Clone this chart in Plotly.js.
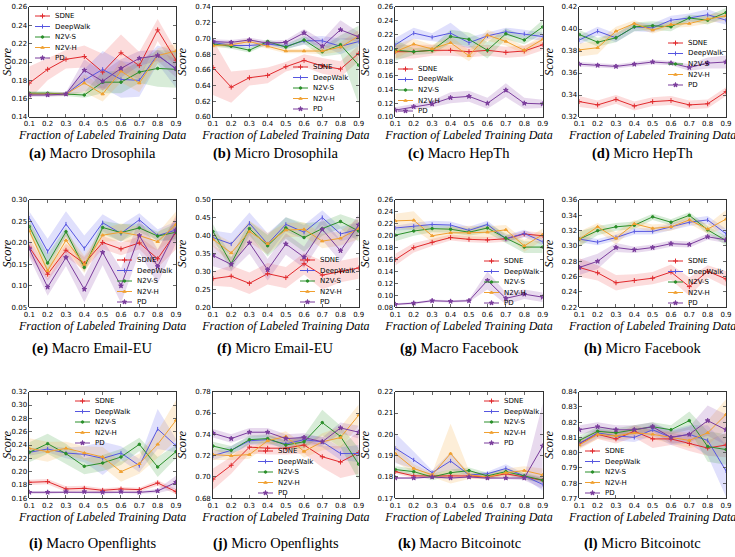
<!DOCTYPE html>
<html><head><meta charset="utf-8">
<script src="https://cdn.plot.ly/plotly-3.0.1.min.js"></script>
<style>body{margin:0;background:#fff}#chart{width:735px;height:557px}</style>
</head><body><div id="chart"></div>
<script>
const FRACTIONS = [0.1,0.2,0.3,0.4,0.5,0.6,0.7,0.8,0.9];
const METHODS = ['SDNE','DeepWalk','N2V-S','N2V-H','PD'];

// (a) Macro Drosophila
const macroDrosophilaMean = {
  'SDNE':     [0.177,0.192,0.203,0.206,0.189,0.210,0.196,0.235,0.202],
  'DeepWalk': [0.165,0.165,0.165,0.180,0.192,0.181,0.180,0.208,0.192],
  'N2V-S':    [0.166,0.166,0.165,0.164,0.178,0.178,0.189,0.193,0.192],
  'N2V-H':    [0.165,0.165,0.165,0.177,0.165,0.190,0.177,0.207,0.212],
  'PD':       [0.164,0.164,0.165,0.191,0.179,0.193,0.204,0.207,0.193]
};
const macroDrosophilaSpread = {
  'SDNE':     [0.018,0.012,0.010,0.012,0.020,0.020,0.015,0.012,0.010],
  'DeepWalk': [0.002,0.002,0.002,0.012,0.020,0.020,0.018,0.010,0.020],
  'N2V-S':    [0.002,0.002,0.002,0.003,0.012,0.012,0.012,0.020,0.020],
  'N2V-H':    [0.002,0.002,0.002,0.010,0.008,0.012,0.010,0.008,0.008],
  'PD':       [0.002,0.002,0.002,0.012,0.010,0.010,0.008,0.006,0.010]
};
// (b) Micro Drosophila
const microDrosophilaMean = {
  'SDNE':     [0.663,0.638,0.650,0.653,0.664,0.672,0.665,0.661,0.681],
  'DeepWalk': [0.695,0.691,0.691,0.693,0.690,0.697,0.697,0.690,0.696],
  'N2V-S':    [0.693,0.690,0.685,0.696,0.689,0.698,0.683,0.692,0.666],
  'N2V-H':    [0.691,0.692,0.696,0.690,0.684,0.684,0.684,0.689,0.703],
  'PD':       [0.696,0.695,0.698,0.694,0.695,0.707,0.690,0.711,0.702]
};
const microDrosophilaSpread = {
  'SDNE':     [0.035,0.020,0.010,0.010,0.006,0.008,0.010,0.010,0.010],
  'DeepWalk': [0.003,0.003,0.003,0.003,0.003,0.005,0.006,0.010,0.006],
  'N2V-S':    [0.003,0.003,0.003,0.003,0.003,0.005,0.006,0.012,0.050],
  'N2V-H':    [0.003,0.003,0.004,0.003,0.003,0.003,0.004,0.006,0.008],
  'PD':       [0.003,0.003,0.003,0.003,0.003,0.005,0.008,0.012,0.006]
};
// (c) Macro HepTh
const macroHepThMean = {
  'SDNE':     [0.195,0.195,0.197,0.197,0.195,0.197,0.194,0.196,0.205],
  'DeepWalk': [0.205,0.222,0.216,0.222,0.208,0.218,0.224,0.221,0.217],
  'N2V-S':    [0.197,0.195,0.197,0.217,0.213,0.197,0.221,0.212,0.231],
  'N2V-H':    [0.195,0.206,0.199,0.208,0.189,0.219,0.210,0.197,0.213],
  'PD':       [0.110,0.115,0.119,0.128,0.130,0.120,0.139,0.120,0.119]
};
const macroHepThSpread = {
  'SDNE':     [0.010,0.010,0.008,0.008,0.008,0.008,0.008,0.008,0.008],
  'DeepWalk': [0.010,0.008,0.006,0.015,0.008,0.005,0.006,0.006,0.006],
  'N2V-S':    [0.015,0.005,0.005,0.010,0.010,0.012,0.008,0.006,0.010],
  'N2V-H':    [0.010,0.008,0.006,0.010,0.008,0.008,0.006,0.006,0.006],
  'PD':       [0.004,0.004,0.005,0.008,0.008,0.008,0.010,0.008,0.006]
};
// (d) Micro HepTh
const microHepThMean = {
  'SDNE':     [0.334,0.331,0.336,0.330,0.334,0.335,0.331,0.332,0.343],
  'DeepWalk': [0.390,0.398,0.392,0.402,0.401,0.408,0.410,0.413,0.408],
  'N2V-S':    [0.395,0.388,0.392,0.402,0.403,0.402,0.410,0.408,0.415],
  'N2V-H':    [0.381,0.383,0.398,0.405,0.399,0.404,0.405,0.409,0.412],
  'PD':       [0.368,0.367,0.366,0.368,0.370,0.369,0.365,0.369,0.370]
};
const microHepThSpread = {
  'SDNE':     [0.005,0.004,0.004,0.004,0.004,0.004,0.004,0.004,0.004],
  'DeepWalk': [0.004,0.004,0.004,0.004,0.004,0.004,0.004,0.005,0.004],
  'N2V-S':    [0.004,0.004,0.004,0.004,0.004,0.004,0.003,0.004,0.004],
  'N2V-H':    [0.006,0.006,0.004,0.003,0.003,0.003,0.003,0.004,0.004],
  'PD':       [0.002,0.002,0.002,0.002,0.002,0.002,0.003,0.005,0.006]
};
// (e) Macro Email-EU
const macroEmailMean = {
  'SDNE':     [0.190,0.127,0.183,0.152,0.201,0.186,0.200,0.163,0.225],
  'DeepWalk': [0.258,0.180,0.244,0.187,0.247,0.222,0.254,0.217,0.230],
  'N2V-S':    [0.238,0.153,0.226,0.143,0.236,0.224,0.235,0.216,0.225],
  'N2V-H':    [0.228,0.135,0.206,0.150,0.218,0.225,0.217,0.203,0.243],
  'PD':       [0.186,0.097,0.166,0.092,0.178,0.100,0.217,0.145,0.230]
};
const macroEmailSpread = {
  'SDNE':     [0.020,0.015,0.015,0.015,0.015,0.015,0.015,0.020,0.040],
  'DeepWalk': [0.015,0.030,0.030,0.030,0.020,0.020,0.015,0.015,0.020],
  'N2V-S':    [0.015,0.020,0.010,0.010,0.015,0.020,0.010,0.010,0.020],
  'N2V-H':    [0.020,0.015,0.020,0.020,0.015,0.020,0.020,0.020,0.030],
  'PD':       [0.020,0.020,0.020,0.030,0.030,0.040,0.040,0.040,0.030]
};
// (f) Micro Email-EU
const microEmailMean = {
  'SDNE':     [0.280,0.287,0.267,0.294,0.283,0.322,0.290,0.300,0.310],
  'DeepWalk': [0.395,0.377,0.435,0.377,0.432,0.410,0.451,0.405,0.418],
  'N2V-S':    [0.412,0.322,0.420,0.372,0.422,0.395,0.420,0.440,0.413],
  'N2V-H':    [0.390,0.352,0.412,0.378,0.416,0.418,0.385,0.393,0.420],
  'PD':       [0.345,0.320,0.380,0.305,0.377,0.340,0.418,0.358,0.430]
};
const microEmailSpread = {
  'SDNE':     [0.020,0.030,0.030,0.030,0.030,0.030,0.040,0.030,0.030],
  'DeepWalk': [0.020,0.030,0.030,0.030,0.020,0.020,0.020,0.020,0.020],
  'N2V-S':    [0.020,0.020,0.020,0.030,0.030,0.040,0.020,0.020,0.030],
  'N2V-H':    [0.020,0.030,0.030,0.030,0.020,0.020,0.020,0.020,0.030],
  'PD':       [0.030,0.020,0.030,0.030,0.030,0.030,0.030,0.030,0.030]
};
// (g) Macro Facebook
const macroFacebookMean = {
  'SDNE':     [0.160,0.180,0.189,0.197,0.194,0.193,0.195,0.203,0.200],
  'DeepWalk': [0.213,0.216,0.219,0.218,0.209,0.219,0.195,0.204,0.190],
  'N2V-S':    [0.201,0.208,0.212,0.211,0.206,0.213,0.196,0.181,0.181],
  'N2V-H':    [0.225,0.226,0.200,0.205,0.205,0.206,0.210,0.183,0.202],
  'PD':       [0.085,0.087,0.091,0.090,0.091,0.125,0.095,0.102,0.097]
};
const macroFacebookSpread = {
  'SDNE':     [0.010,0.008,0.006,0.005,0.005,0.005,0.005,0.005,0.005],
  'DeepWalk': [0.004,0.006,0.006,0.006,0.006,0.006,0.006,0.006,0.006],
  'N2V-S':    [0.010,0.008,0.006,0.006,0.006,0.008,0.008,0.010,0.010],
  'N2V-H':    [0.012,0.015,0.010,0.010,0.012,0.010,0.008,0.010,0.010],
  'PD':       [0.002,0.002,0.002,0.002,0.002,0.015,0.010,0.008,0.008]
};
// (h) Micro Facebook
const microFacebookMean = {
  'SDNE':     [0.272,0.265,0.252,0.255,0.258,0.266,0.247,0.267,0.257],
  'DeepWalk': [0.309,0.305,0.311,0.319,0.319,0.325,0.331,0.334,0.316],
  'N2V-S':    [0.309,0.320,0.325,0.327,0.338,0.331,0.340,0.321,0.307],
  'N2V-H':    [0.309,0.325,0.310,0.329,0.323,0.325,0.334,0.322,0.335],
  'PD':       [0.272,0.280,0.298,0.295,0.298,0.303,0.302,0.312,0.308]
};
const microFacebookSpread = {
  'SDNE':     [0.012,0.010,0.010,0.008,0.008,0.010,0.012,0.008,0.010],
  'DeepWalk': [0.004,0.004,0.004,0.004,0.004,0.005,0.005,0.005,0.006],
  'N2V-S':    [0.010,0.006,0.005,0.005,0.004,0.004,0.004,0.005,0.006],
  'N2V-H':    [0.010,0.005,0.008,0.005,0.005,0.005,0.005,0.006,0.012],
  'PD':       [0.010,0.010,0.006,0.004,0.004,0.004,0.004,0.004,0.004]
};
// (i) Macro Openflights
const macroOpenflightsMean = {
  'SDNE':     [0.184,0.185,0.174,0.175,0.172,0.174,0.173,0.183,0.170],
  'DeepWalk': [0.229,0.234,0.228,0.226,0.220,0.228,0.209,0.264,0.239],
  'N2V-S':    [0.229,0.242,0.227,0.208,0.213,0.222,0.241,0.207,0.230],
  'N2V-H':    [0.235,0.230,0.235,0.228,0.222,0.200,0.212,0.241,0.277],
  'PD':       [0.169,0.169,0.170,0.170,0.169,0.170,0.169,0.171,0.184]
};
const macroOpenflightsSpread = {
  'SDNE':     [0.004,0.004,0.004,0.004,0.003,0.003,0.003,0.004,0.004],
  'DeepWalk': [0.005,0.005,0.008,0.012,0.025,0.010,0.010,0.030,0.010],
  'N2V-S':    [0.015,0.015,0.015,0.012,0.012,0.012,0.010,0.015,0.010],
  'N2V-H':    [0.015,0.015,0.010,0.010,0.015,0.015,0.015,0.020,0.030],
  'PD':       [0.002,0.002,0.002,0.002,0.002,0.002,0.002,0.003,0.010]
};
// (j) Micro Openflights
const microOpenflightsMean = {
  'SDNE':     [0.698,0.711,0.728,0.727,0.727,0.730,0.719,0.714,0.723],
  'DeepWalk': [0.720,0.725,0.734,0.735,0.731,0.735,0.733,0.722,0.722],
  'N2V-S':    [0.729,0.725,0.735,0.736,0.730,0.733,0.751,0.738,0.712],
  'N2V-H':    [0.721,0.720,0.721,0.734,0.738,0.724,0.733,0.737,0.758],
  'PD':       [0.741,0.736,0.742,0.742,0.736,0.737,0.733,0.746,0.742]
};
const microOpenflightsSpread = {
  'SDNE':     [0.010,0.008,0.006,0.006,0.006,0.008,0.010,0.015,0.020],
  'DeepWalk': [0.004,0.004,0.004,0.004,0.004,0.004,0.005,0.006,0.008],
  'N2V-S':    [0.004,0.004,0.004,0.004,0.004,0.006,0.012,0.010,0.015],
  'N2V-H':    [0.005,0.004,0.004,0.004,0.005,0.006,0.008,0.010,0.010],
  'PD':       [0.004,0.004,0.004,0.004,0.004,0.004,0.004,0.005,0.006]
};
// (k) Macro Bitcoinotc
const macroBitcoinMean = {
  'SDNE':     [0.1825,0.1805,0.1805,0.1805,0.1805,0.1800,0.1815,0.1800,0.1785],
  'DeepWalk': [0.1935,0.1880,0.1820,0.1875,0.1810,0.1815,0.1840,0.1805,0.1765],
  'N2V-S':    [0.1835,0.1825,0.1800,0.1820,0.1830,0.1805,0.1825,0.1805,0.1785],
  'N2V-H':    [0.1910,0.1840,0.1810,0.1910,0.1810,0.1800,0.1820,0.1830,0.1810],
  'PD':       [0.1795,0.1795,0.1800,0.1795,0.1800,0.1795,0.1795,0.1795,0.1945]
};
const macroBitcoinSpread = {
  'SDNE':     [0.0010,0.0010,0.0010,0.0010,0.0010,0.0010,0.0010,0.0010,0.0010],
  'DeepWalk': [0.0070,0.0040,0.0010,0.0040,0.0010,0.0010,0.0020,0.0010,0.0030],
  'N2V-S':    [0.0015,0.0015,0.0015,0.0015,0.0015,0.0015,0.0015,0.0015,0.0015],
  'N2V-H':    [0.0040,0.0020,0.0010,0.0140,0.0020,0.0010,0.0020,0.0020,0.0030],
  'PD':       [0.0005,0.0005,0.0005,0.0005,0.0005,0.0005,0.0005,0.0010,0.0200]
};
// (l) Micro Bitcoinotc
const microBitcoinMean = {
  'SDNE':     [0.806,0.812,0.809,0.814,0.809,0.809,0.806,0.803,0.805],
  'DeepWalk': [0.806,0.813,0.811,0.810,0.815,0.810,0.812,0.808,0.788],
  'N2V-S':    [0.808,0.814,0.813,0.815,0.817,0.815,0.821,0.804,0.802],
  'N2V-H':    [0.805,0.812,0.811,0.813,0.812,0.810,0.808,0.813,0.825],
  'PD':       [0.815,0.817,0.815,0.815,0.817,0.810,0.812,0.821,0.815]
};
const microBitcoinSpread = {
  'SDNE':     [0.003,0.003,0.003,0.004,0.006,0.004,0.005,0.005,0.008],
  'DeepWalk': [0.003,0.003,0.003,0.003,0.004,0.005,0.006,0.010,0.017],
  'N2V-S':    [0.003,0.003,0.003,0.003,0.003,0.003,0.006,0.010,0.010],
  'N2V-H':    [0.003,0.003,0.003,0.003,0.003,0.004,0.005,0.008,0.010],
  'PD':       [0.003,0.003,0.003,0.003,0.003,0.004,0.005,0.010,0.010]
};

const PANEL_TITLES = ['Macro Drosophila','Micro Drosophila','Macro HepTh','Micro HepTh',
  'Macro Email-EU','Micro Email-EU','Macro Facebook','Micro Facebook',
  'Macro Openflights','Micro Openflights','Macro Bitcoinotc','Micro Bitcoinotc'];
const PANEL_LETTERS = ['a','b','c','d','e','f','g','h','i','j','k','l'];
const Y_RANGES = [[0.14,0.26],[0.60,0.74],[0.10,0.26],[0.32,0.42],
  [0.05,0.30],[0.20,0.50],[0.08,0.26],[0.22,0.36],
  [0.16,0.32],[0.68,0.78],[0.17,0.22],[0.77,0.84]];
const Y_STEPS = [0.02,0.02,0.02,0.02,0.05,0.05,0.02,0.02,0.02,0.02,0.01,0.01];
const MEANS = [macroDrosophilaMean,microDrosophilaMean,macroHepThMean,microHepThMean,
  macroEmailMean,microEmailMean,macroFacebookMean,microFacebookMean,
  macroOpenflightsMean,microOpenflightsMean,macroBitcoinMean,microBitcoinMean];
const SPREADS = [macroDrosophilaSpread,microDrosophilaSpread,macroHepThSpread,microHepThSpread,
  macroEmailSpread,microEmailSpread,macroFacebookSpread,microFacebookSpread,
  macroOpenflightsSpread,microOpenflightsSpread,macroBitcoinSpread,microBitcoinSpread];

// ---- styling / layout (pixels) ----
const W = 735, H = 557;
const COLORS = {'SDNE':'#e0292c','DeepWalk':'#5656e0','N2V-S':'#2a8f2a','N2V-H':'#f0a030','PD':'#7a3c9c'};
const FILLS = {'SDNE':'rgba(240,80,80,0.2)','DeepWalk':'rgba(100,100,240,0.2)','N2V-S':'rgba(60,160,60,0.2)','N2V-H':'rgba(245,170,60,0.2)','PD':'rgba(140,70,170,0.2)'};
const SYMBOLS = {'SDNE':'cross-thin','DeepWalk':'line-ns','N2V-S':'circle','N2V-H':'triangle-up','PD':'star'};
const SIZES = {'SDNE':3.5,'DeepWalk':3,'N2V-S':2.5,'N2V-H':3,'PD':3.5};
const COLS_PX = [[29.3,176],[213,358.7],[395.3,542.7],[579.3,726]];
const ROWS_PX = [[7,117],[200,307.3],[391.7,498.3]];
const CAPTION_Y_PX = [153,348,543];
const CAPTION_SHIFT = -10;
// legend placement: [key-line start x, first-item center y] in pixels
const LEGEND_PX = [[35,16],[293,67],[398,69],[668,43],[117,260],[300,260],[484,261],[668,261],[75,401],[258,451],[484,401],[585,451]];
const LEGEND_SPACING = 10.5, KEY_LEN = 15, TEXT_GAP = 3;

const traces = [];
const layout = {
  width: W, height: H, margin:{l:0,r:0,t:0,b:0},
  paper_bgcolor:'#fff', plot_bgcolor:'rgba(0,0,0,0)',
  font:{family:'DejaVu Sans', size:7, color:'#000'},
  annotations: [], showlegend: false
};

for (let p = 0; p < 12; p++) {
  const r = Math.floor(p/4), c = p%4;
  const sfx = p === 0 ? '' : String(p+1);
  const xa = 'x'+sfx, ya = 'y'+sfx;
  const mean = MEANS[p], spread = SPREADS[p];
  METHODS.forEach(m => {
    const up = mean[m].map((v,i)=>v+spread[m][i]);
    const lo = mean[m].map((v,i)=>v-spread[m][i]);
    traces.push({
      x: FRACTIONS.concat(FRACTIONS.slice().reverse()),
      y: up.concat(lo.slice().reverse()),
      xaxis: xa, yaxis: ya, type:'scatter', mode:'lines', fill:'toself',
      fillcolor: FILLS[m], line:{width:0}, hoverinfo:'skip'
    });
  });
  METHODS.forEach(m => {
    traces.push({
      x: FRACTIONS, y: mean[m], name: m, xaxis: xa, yaxis: ya,
      type:'scatter', mode:'lines+markers',
      line:{color:COLORS[m], width:1},
      marker:{symbol:SYMBOLS[m], size:SIZES[m], color:COLORS[m], line:{color:COLORS[m], width:1}}
    });
  });
  const xd = COLS_PX[c], yd = ROWS_PX[r];
  layout['xaxis'+sfx] = {
    domain:[xd[0]/W, xd[1]/W], anchor: ya, range:[0.1,0.9],
    tickvals: FRACTIONS, tickformat:'.1f', ticks:'inside', ticklen:3, tickwidth:0.8,
    showline:true, linecolor:'#000', linewidth:0.8, mirror:'allticks',
    showgrid:false, zeroline:false, tickfont:{size:7, family:'DejaVu Sans'},
    title:{text:'Fraction of Labeled Training Data', standoff:2,
      font:{family:'Liberation Serif', size:12, style:'italic'}}
  };
  const yr = Y_RANGES[p];
  layout['yaxis'+sfx] = {
    domain:[1-yd[1]/H, 1-yd[0]/H], anchor: xa, range: yr,
    dtick: Y_STEPS[p], tick0: yr[0], tickformat:'.2f', ticks:'inside', ticklen:3, tickwidth:0.8,
    showline:true, linecolor:'#000', linewidth:0.8, mirror:'allticks',
    showgrid:false, zeroline:false, tickfont:{size:7, family:'DejaVu Sans'},
    title:{text:'Score', standoff:5, font:{family:'Liberation Serif', size:12.5, style:'italic'}}
  };
  layout.annotations.push({
    xref:'paper', yref:'paper', x:((xd[0]+xd[1])/2 + CAPTION_SHIFT)/W, y:1-CAPTION_Y_PX[r]/H,
    xanchor:'center', yanchor:'middle', showarrow:false,
    text:'<b>('+PANEL_LETTERS[p]+')</b> '+PANEL_TITLES[p],
    font:{family:'Liberation Serif', size:14.5, color:'#000'}
  });
}

// Legend keys drawn on a hidden full-figure pixel axis
layout.xaxis13 = {domain:[0,1], range:[0,W], visible:false, anchor:'y13', fixedrange:true};
layout.yaxis13 = {domain:[0,1], range:[H,0], visible:false, anchor:'x13', fixedrange:true};
METHODS.forEach((m, i) => {
  const lx = [], ly = [], mx = [], my = [];
  LEGEND_PX.forEach(L => {
    const cy = L[1] + i*LEGEND_SPACING;
    lx.push(L[0], L[0]+KEY_LEN, null); ly.push(cy, cy, null);
    mx.push(L[0]+KEY_LEN/2); my.push(cy);
  });
  traces.push({x:lx, y:ly, xaxis:'x13', yaxis:'y13', type:'scatter', mode:'lines',
    line:{color:COLORS[m], width:1}, hoverinfo:'skip', cliponaxis:false});
  traces.push({x:mx, y:my, xaxis:'x13', yaxis:'y13', type:'scatter', mode:'markers',
    marker:{symbol:SYMBOLS[m], size:SIZES[m], color:COLORS[m], line:{color:COLORS[m], width:1}},
    hoverinfo:'skip', cliponaxis:false});
});
LEGEND_PX.forEach(L => {
  METHODS.forEach((m, i) => {
    layout.annotations.push({
      xref:'paper', yref:'paper', x:(L[0]+KEY_LEN+TEXT_GAP)/W, y:1-(L[1]+i*LEGEND_SPACING)/H,
      xanchor:'left', yanchor:'middle', showarrow:false, text:m,
      font:{family:'DejaVu Sans', size:7, color:'#000'}
    });
  });
});

Plotly.newPlot('chart', traces, layout, {staticPlot:true});
</script></body></html>
